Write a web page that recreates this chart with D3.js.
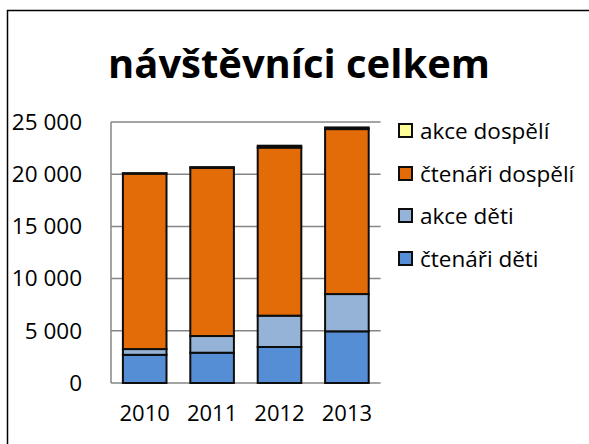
<!DOCTYPE html>
<html><head><meta charset="utf-8">
<script src="https://cdn.jsdelivr.net/npm/d3@7"></script>
<style>body{margin:0;background:#fff}svg{display:block}</style>
</head><body>
<svg id="c" width="589" height="444"></svg>
<script>
const years = ["2010","2011","2012","2013"];
const ctenariDeti   = [2700, 2900, 3450, 4950];
const akceDeti      = [550, 1600, 3000, 3570];
const ctenariDospeli= [16800, 16100, 16100, 15800];
const akceDospeli   = [50, 80, 180, 160];
const seriesNames = ["čtenáři děti","akce děti","čtenáři dospělí","akce dospělí"];
const seriesColors = ["#558ED5","#95B3D7","#E36C09","#FFFF99"];
const yTicks = [0,5000,10000,15000,20000,25000];
const title = "návštěvníci celkem";

const font = "'Open Sans', 'Noto Sans', sans-serif";
const svg = d3.select("#c");
svg.append("rect").attr("x",7.5).attr("y",10.5).attr("width",600).attr("height",450)
  .attr("fill","#fff").attr("stroke","#000").attr("stroke-width",1.5);

const tt = svg.append("text").attr("x",299).attr("y",78).attr("text-anchor","middle")
  .attr("font-family",font).attr("font-weight","bold").attr("font-size",38)
  .attr("fill","#000").text(title);
const tw = tt.node().getComputedTextLength();
tt.attr("font-size", 38*382/tw);

const L=111, R=380.6, T=122, B=383;
const x = d3.scaleBand().domain(years).range([L,R]).paddingInner(0.353).paddingOuter(0.1765);
const y = d3.scaleLinear().domain([0,25000]).range([B,T]);

svg.append("g").selectAll("line").data(yTicks).join("line")
  .attr("x1",L).attr("x2",R).attr("y1",d=>y(d)).attr("y2",d=>y(d))
  .attr("stroke","#868686").attr("stroke-width",1.5);
svg.append("line").attr("x1",L).attr("x2",L).attr("y1",T).attr("y2",B)
  .attr("stroke","#868686").attr("stroke-width",1.5);

const yAxis = d3.axisLeft(y).tickValues(yTicks).tickSize(0).tickPadding(0)
  .tickFormat(d=>d3.format(",")(d).replace(",", " "));
const ga = svg.append("g").attr("transform",`translate(${82},0)`).call(yAxis);
ga.select(".domain").remove();
ga.selectAll("text").attr("font-family",font).attr("font-size",22.5).attr("fill","#000");

const xAxis = d3.axisBottom(x).tickSize(0).tickPadding(0);
const gx = svg.append("g").attr("transform",`translate(0,${405})`).call(xAxis);
gx.select(".domain").remove();
gx.selectAll("text").attr("font-family",font).attr("font-size",22).attr("fill","#000");

const rows = years.map((yr,i)=>({year:yr, s0:ctenariDeti[i], s1:akceDeti[i], s2:ctenariDospeli[i], s3:akceDospeli[i]}));
const stack = d3.stack().keys(["s0","s1","s2","s3"])(rows);
stack.forEach((layer,k)=>{
  svg.append("g").selectAll("rect").data(layer).join("rect")
    .attr("x",d=>x(d.data.year)).attr("width",x.bandwidth())
    .attr("y",d=>y(d[1])).attr("height",d=>y(d[0])-y(d[1]))
    .attr("fill",seriesColors[k]).attr("stroke","#0d0d0d").attr("stroke-width",2);
});

const legY = [131,174,216,259];
const order = [3,2,1,0];
order.forEach((k,i)=>{
  const g = svg.append("g").attr("transform",`translate(398,${legY[i]})`);
  g.append("rect").attr("x",1).attr("y",-7).attr("width",13).attr("height",13)
    .attr("fill",seriesColors[k]).attr("stroke","#0d0d0d").attr("stroke-width",2);
  g.append("text").attr("x",22).attr("y",0).attr("dy","0.36em")
    .attr("font-family",font).attr("font-size",22.5).attr("fill","#000").text(seriesNames[k]);
});
</script>
</body></html>
